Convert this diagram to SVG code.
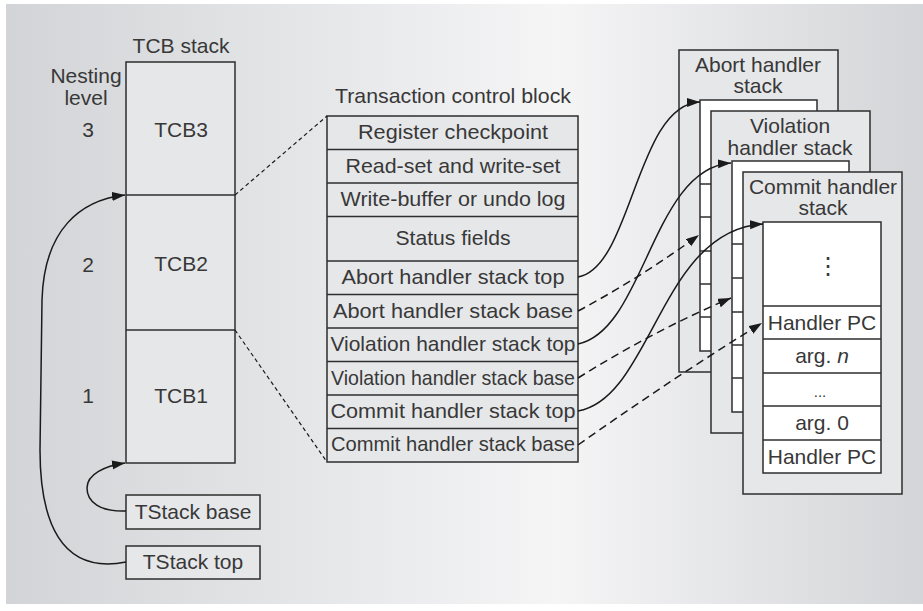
<svg xmlns="http://www.w3.org/2000/svg" width="923" height="611" viewBox="0 0 923 611">
<defs>
<linearGradient id="bg" x1="0" y1="0" x2="1" y2="0">
<stop offset="0" stop-color="#d2d4d7"/>
<stop offset="0.6" stop-color="#f5f5f6"/>
<stop offset="1" stop-color="#d4d5d8"/>
</linearGradient>
<marker id="ah" markerUnits="userSpaceOnUse" markerWidth="14" markerHeight="10" refX="13" refY="4.5" orient="auto">
<path d="M0,0 L13,4.5 L0,9 z" fill="#1a1a1a" stroke="none"/>
</marker>
</defs>
<style>
text{font-family:"Liberation Sans",Arial,sans-serif;font-size:21px;fill:#383838;text-anchor:middle}
.box{fill:#e6e7e9;stroke:#2e2e2e;stroke-width:1.5}
.wht{fill:#ffffff;stroke:#2e2e2e;stroke-width:1.5}
.ln{stroke:#2e2e2e;stroke-width:1.5;fill:none}
.con{stroke:#1a1a1a;stroke-width:1.5;fill:none}
.dash{stroke-dasharray:8 5}
.fine{stroke:#1a1a1a;stroke-width:1.2;fill:none;stroke-dasharray:4 3}
</style>
<rect x="6" y="4" width="917" height="600" fill="url(#bg)"/>

<g id="nesting-label">
<text x="86" y="83">Nesting</text>
<text x="86" y="105">level</text>
<text x="88" y="137">3</text>
<text x="88" y="272">2</text>
<text x="88" y="403">1</text>
</g>

<g id="tcb-stack">
<text x="181" y="53">TCB stack</text>
<rect class="box" x="126" y="62" width="109" height="401"/>
<line class="ln" x1="126" y1="195" x2="235" y2="195"/>
<line class="ln" x1="126" y1="330" x2="235" y2="330"/>
<text x="181" y="137">TCB3</text>
<text x="181" y="271">TCB2</text>
<text x="181" y="403">TCB1</text>
</g>

<g id="tstack-base">
<rect class="box" x="126" y="495" width="134" height="34"/>
<text x="193" y="519">TStack base</text>
</g>
<g id="tstack-top">
<rect class="box" x="126" y="546" width="134" height="33"/>
<text x="193" y="569">TStack top</text>
</g>

<g id="tcb-block">
<text x="453" y="103" textLength="236" lengthAdjust="spacingAndGlyphs">Transaction control block</text>
<rect class="box" x="327" y="116" width="251" height="346"/>
<line class="ln" x1="327" y1="149.5" x2="578" y2="149.5"/>
<line class="ln" x1="327" y1="183" x2="578" y2="183"/>
<line class="ln" x1="327" y1="216.5" x2="578" y2="216.5"/>
<line class="ln" x1="327" y1="261" x2="578" y2="261"/>
<line class="ln" x1="327" y1="294.5" x2="578" y2="294.5"/>
<line class="ln" x1="327" y1="328" x2="578" y2="328"/>
<line class="ln" x1="327" y1="361.5" x2="578" y2="361.5"/>
<line class="ln" x1="327" y1="395" x2="578" y2="395"/>
<line class="ln" x1="327" y1="428.5" x2="578" y2="428.5"/>
<text x="453" y="139" textLength="190" lengthAdjust="spacingAndGlyphs">Register checkpoint</text>
<text x="453" y="173" textLength="215" lengthAdjust="spacingAndGlyphs">Read-set and write-set</text>
<text x="453" y="206" textLength="225" lengthAdjust="spacingAndGlyphs">Write-buffer or undo log</text>
<text x="453" y="245" textLength="115" lengthAdjust="spacingAndGlyphs">Status fields</text>
<text x="453" y="284" textLength="223" lengthAdjust="spacingAndGlyphs">Abort handler stack top</text>
<text x="453" y="318" textLength="240" lengthAdjust="spacingAndGlyphs">Abort handler stack base</text>
<text x="453" y="351" textLength="245" lengthAdjust="spacingAndGlyphs">Violation handler stack top</text>
<text x="453" y="385" textLength="244" lengthAdjust="spacingAndGlyphs">Violation handler stack base</text>
<text x="453" y="418" textLength="245" lengthAdjust="spacingAndGlyphs">Commit handler stack top</text>
<text x="453" y="451" textLength="244" lengthAdjust="spacingAndGlyphs">Commit handler stack base</text>
</g>

<g id="abort-stack">
<rect class="box" x="679" y="50" width="159" height="322"/>
<text x="758" y="72">Abort handler</text>
<text x="758" y="93">stack</text>
<rect class="wht" x="700" y="100" width="117" height="251"/>
<line class="ln" x1="700" y1="184" x2="817" y2="184"/>
<line class="ln" x1="700" y1="217" x2="817" y2="217"/>
<line class="ln" x1="700" y1="251" x2="817" y2="251"/>
<line class="ln" x1="700" y1="284" x2="817" y2="284"/>
<line class="ln" x1="700" y1="317" x2="817" y2="317"/>
</g>

<g id="violation-stack">
<rect class="box" x="711" y="111" width="159" height="322"/>
<text x="790" y="133">Violation</text>
<text x="790" y="155">handler stack</text>
<rect class="wht" x="732" y="161" width="117" height="251"/>
<line class="ln" x1="732" y1="244" x2="849" y2="244"/>
<line class="ln" x1="732" y1="278" x2="849" y2="278"/>
<line class="ln" x1="732" y1="312" x2="849" y2="312"/>
<line class="ln" x1="732" y1="345" x2="849" y2="345"/>
<line class="ln" x1="732" y1="378" x2="849" y2="378"/>
</g>

<g id="commit-stack">
<rect class="box" x="743" y="172" width="159" height="322"/>
<text x="823" y="194">Commit handler</text>
<text x="823" y="215">stack</text>
<rect class="wht" x="763" y="222" width="118" height="251"/>
<line class="ln" x1="763" y1="306" x2="881" y2="306"/>
<line class="ln" x1="763" y1="339" x2="881" y2="339"/>
<line class="ln" x1="763" y1="373" x2="881" y2="373"/>
<line class="ln" x1="763" y1="406" x2="881" y2="406"/>
<line class="ln" x1="763" y1="440" x2="881" y2="440"/>
<text x="828" y="274" style="font-family:'DejaVu Sans',sans-serif;font-size:24px">⋮</text>
<text x="822" y="330">Handler PC</text>
<text x="822" y="363">arg. <tspan font-style="italic">n</tspan></text>
<text x="820" y="397" style="font-size:15px">...</text>
<text x="822" y="430">arg. 0</text>
<text x="822" y="464">Handler PC</text>
</g>

<g id="connectors">
<line class="fine" x1="235" y1="195" x2="327" y2="116"/>
<line class="fine" x1="235" y1="330" x2="327" y2="462"/>
<path class="con" d="M126,511 C100,512 87,502 87,488 C87,474 105,466 125,463" marker-end="url(#ah)"/>
<path class="con" d="M126,562 C60,575 40,520 40,450 L42,300 C44,230 80,200 125,195" marker-end="url(#ah)"/>
<path class="con" d="M578,277 C632,268 636,104 700,102" marker-end="url(#ah)"/>
<path class="con" d="M578,344 C645,330 652,168 731,163" marker-end="url(#ah)"/>
<path class="con" d="M578,411 C652,398 660,230 763,224" marker-end="url(#ah)"/>
<path class="con dash" d="M578,311 Q640,278 699,235" marker-end="url(#ah)"/>
<path class="con dash" d="M578,378 Q655,330 731,298" marker-end="url(#ah)"/>
<path class="con dash" d="M578,445 Q670,380 762,323" marker-end="url(#ah)"/>
</g>
</svg>
